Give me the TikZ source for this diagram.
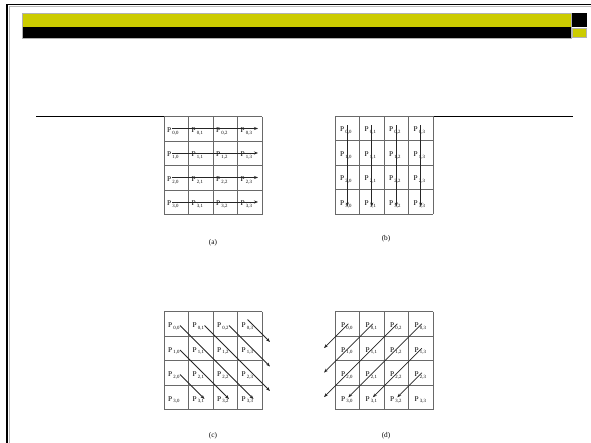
\documentclass[tikz,border=0pt]{standalone}
\usepackage{fontspec}
\setmainfont{Liberation Serif}
\usetikzlibrary{arrows.meta}
\definecolor{hdryellow}{RGB}{204,204,0}
\definecolor{gridgray}{RGB}{105,105,105}
\tikzset{
  gridline/.style={draw=gridgray, line width=1pt},
  flow/.style={draw=black!85, line width=0.75pt, -{Stealth[length=4pt,width=3pt]}},
  ptext/.style={inner sep=0pt, anchor=base west, font=\fontsize{7.3}{8}\selectfont},
  caption/.style={font=\fontsize{7.3}{8}\selectfont, inner sep=0pt},
  rule/.style={draw=black, line width=0.8pt},
}
\newcommand{\plbl}[2]{P\kern1.2pt\raisebox{-1.8pt}{\fontsize{4.8}{5}\selectfont #1,#2}}
\newcommand{\cellgrid}{%
  \foreach \k in {0,...,4} {
    \draw[gridline] (24.5*\k,0) -- (24.5*\k,98);
    \draw[gridline] (0,24.5*\k) -- (98,24.5*\k);
  }}
\begin{document}
\begin{tikzpicture}[x=1pt,y=-1pt]
\useasboundingbox (0,0) rectangle (591,443);
\fill[white] (0,0) rectangle (591,443);
% frame
\draw[black, line width=1.6pt] (7,443) -- (7,4.5) -- (591,4.5);
\draw[gray!55, line width=0.6pt] (9.4,443) -- (9.4,6.6) -- (591,6.6);
% header bars
\fill[hdryellow] (22,13) rectangle (571,27.5);
\fill[black] (22,27.5) rectangle (571,38);
\fill[black] (571,13) rectangle (587,27.5);
\fill[hdryellow] (572,28.7) rectangle (586,37);
\draw[gray!60, line width=0.4pt] (22,13) rectangle (571,38);
\draw[gray!60, line width=0.4pt] (572,28.7) rectangle (586,37);
% rules
\coordinate (rl1) at (36,116); \coordinate (rl2) at (164,116);
\coordinate (rr1) at (434,116); \coordinate (rr2) at (573,116);
\draw[rule] (rl1) -- (rl2);
\draw[rule] (rr1) -- (rr2);

% ---------- (a) row-wise ----------
\begin{scope}[shift={(164,117)}]
  \cellgrid
  \foreach \i in {0,...,3} {
    \foreach \j in {0,...,3} {
      \node[ptext] (a-\i-\j) at (24.5*\j+3, 24.5*\i+15.5) {\plbl{\i}{\j}};
    }
    \coordinate (as\i) at (8, 24.5*\i+11.5);
    \coordinate (ae\i) at (94, 24.5*\i+11.5);
    \draw[flow] (as\i) -- (ae\i);
  }
\end{scope}
\node[caption] (capa) at (213,242.5) {(a)};

% ---------- (b) column-wise ----------
\begin{scope}[shift={(335,116.5)}]
  \cellgrid
  \foreach \i in {0,...,3} {
    \foreach \j in {0,...,3} {
      \node[ptext] (b-\i-\j) at (24.5*\j+5, 24.5*\i+15.5) {\plbl{\i}{\j}};
    }
  }
  \foreach \j in {0,...,3} {
    \coordinate (bs\j) at (24.5*\j+12.3, 9);
    \coordinate (be\j) at (24.5*\j+12.3, 90);
    \draw[flow] (bs\j) -- (be\j);
  }
\end{scope}
\node[caption] (capb) at (386,239) {(b)};

% ---------- (c) diagonals down-right ----------
\begin{scope}[shift={(164,311.5)}]
  \cellgrid
  \foreach \i in {0,...,3} {
    \foreach \j in {0,...,3} {
      \node[ptext] (c-\i-\j) at (24.5*\j+4, 24.5*\i+16) {\plbl{\i}{\j}};
      \coordinate (cp\i\j) at (24.5*\j+16, 24.5*\i+14);
    }
  }
  \coordinate (cr1) at (106,79.5);
  \coordinate (cr2) at (106,55);
  \coordinate (cr3) at (106,30.5);
  \coordinate (cs3) at (83.5,8);
  \draw[flow] (cp00) -- (cp33);
  \draw[flow] (cp10) -- (cp32);
  \draw[flow] (cp20) -- (cp31);
  \draw[flow] (cp01) -- (cr1);
  \draw[flow] (cp02) -- (cr2);
  \draw[flow] (cs3) -- (cr3);
\end{scope}
\node[caption] (capc) at (213,436) {(c)};

% ---------- (d) anti-diagonals down-left ----------
\begin{scope}[shift={(335,311.5)}]
  \cellgrid
  \foreach \i in {0,...,3} {
    \foreach \j in {0,...,3} {
      \node[ptext] (d-\i-\j) at (24.5*\j+6, 24.5*\i+16) {\plbl{\i}{\j}};
      \coordinate (dp\i\j) at (24.5*\j+13.3, 24.5*\i+12.3);
    }
  }
  \coordinate (dl0) at (-11,36.6);
  \coordinate (dl1) at (-11,61.1);
  \coordinate (dl2) at (-11,85.6);
  \draw[flow] (dp00) -- (dl0);
  \draw[flow] (dp01) -- (dl1);
  \draw[flow] (dp02) -- (dl2);
  \draw[flow] (dp03) -- (dp30);
  \draw[flow] (dp13) -- (dp31);
  \draw[flow] (dp23) -- (dp32);
\end{scope}
\node[caption] (capd) at (386,435.5) {(d)};
\end{tikzpicture}
\end{document}
